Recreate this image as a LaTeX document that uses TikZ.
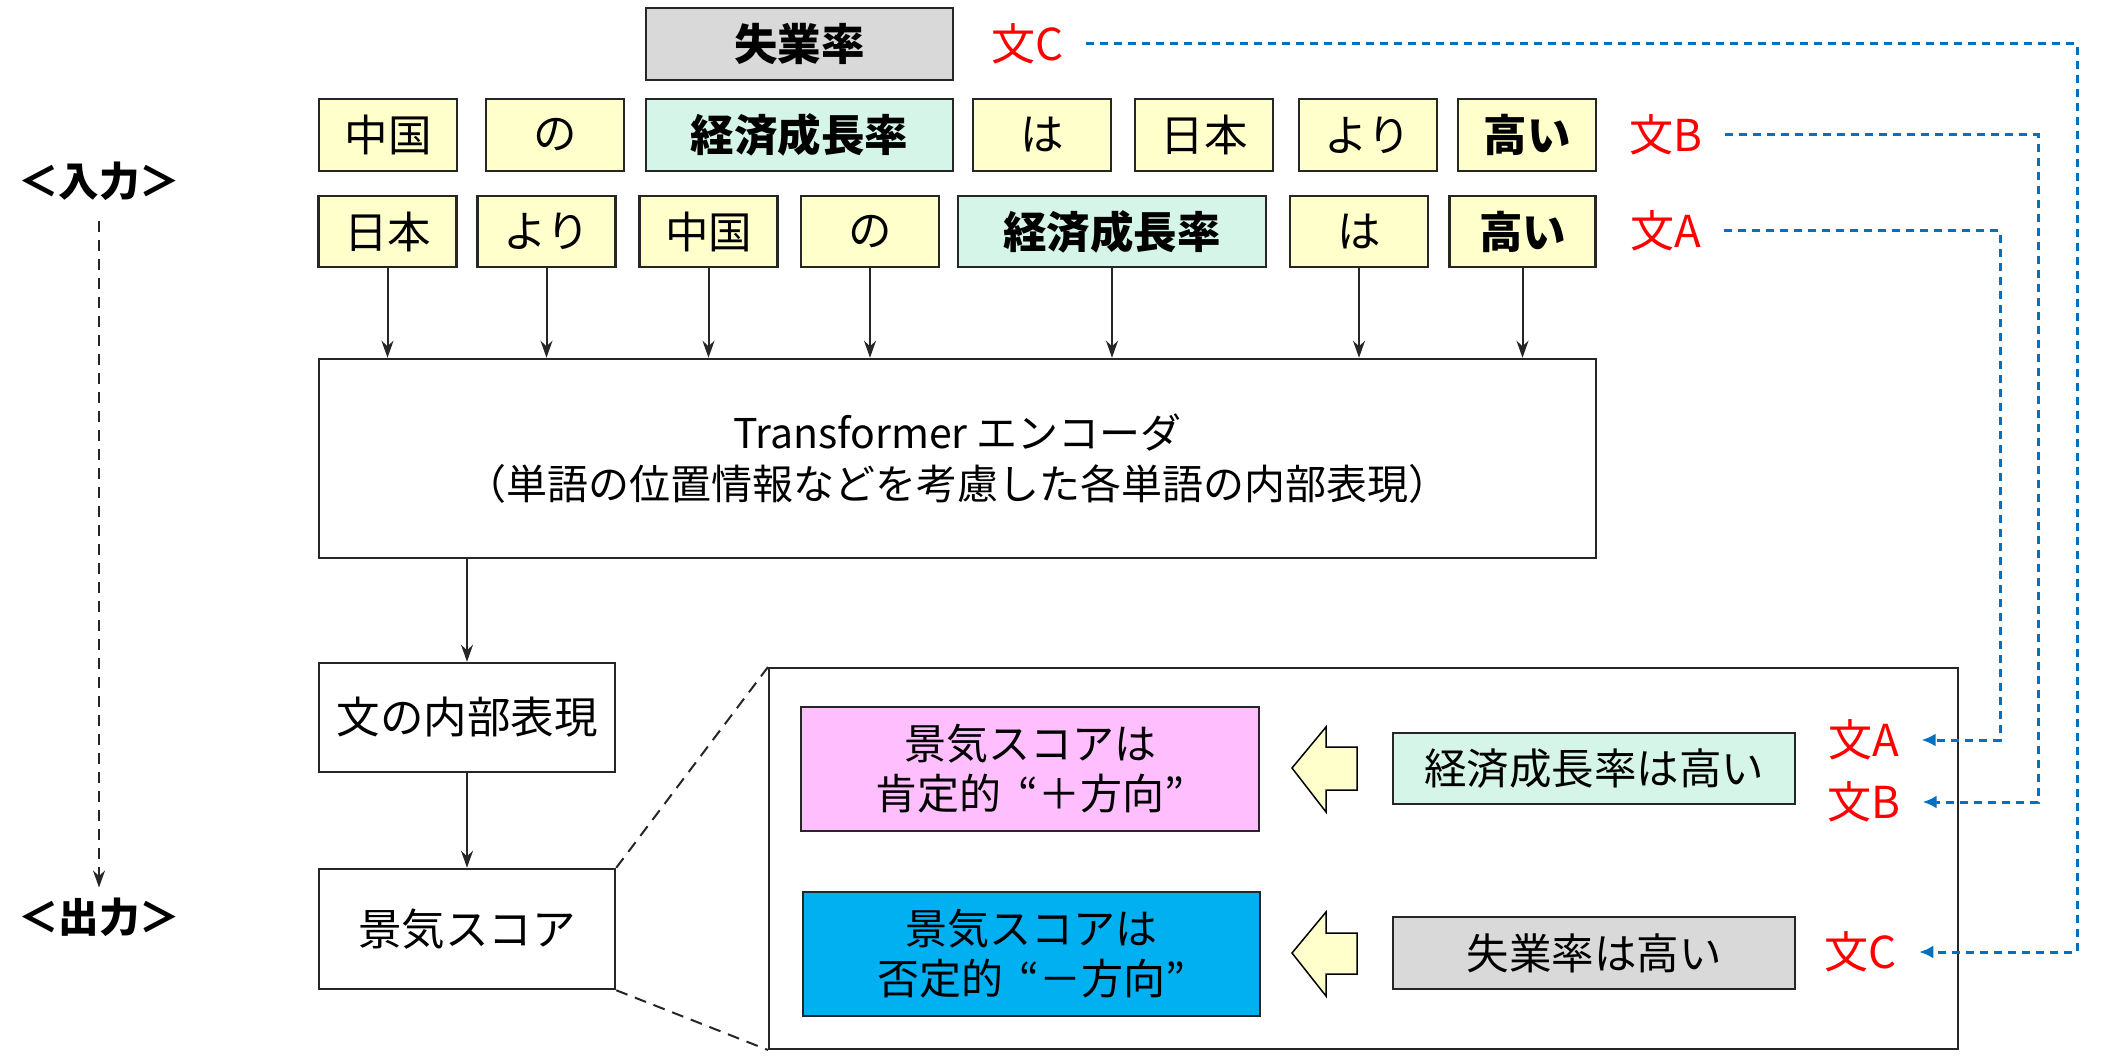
\documentclass[tikz,border=0pt]{standalone}
\usepackage{fontspec}
\setmainfont{Noto Sans CJK JP}
\usetikzlibrary{arrows.meta}
\definecolor{tokyellow}{HTML}{FFFFCC}
\definecolor{mint}{HTML}{D5F5E9}
\definecolor{grayfill}{HTML}{D9D9D9}
\definecolor{pinkbox}{HTML}{FFBFFF}
\definecolor{bluebox}{HTML}{00B0F0}
\definecolor{linkblue}{HTML}{0070C0}
\definecolor{edge}{HTML}{262626}
\begin{document}
\begin{tikzpicture}[x=1pt,y=-1pt,
  box/.style={draw=edge, line width=2.5pt, inner sep=0pt, minimum height=72pt, align=center, font=\fontsize{43.5}{50}\selectfont},
  tok/.style={box, fill=tokyellow, minimum width=138pt},
  keytok/.style={box, fill=mint, minimum width=307pt, font=\fontsize{43.5}{50}\selectfont\bfseries},
  plain/.style={box, fill=white},
  lab/.style={text=red, inner sep=0pt, font=\fontsize{44}{50}\selectfont},
  side/.style={inner sep=0pt, font=\fontsize{40.5}{46}\selectfont\bfseries},
  flow/.style={draw=edge, line width=2pt, -{Stealth[length=17pt,width=12pt]}},
  link/.style={draw=linkblue, line width=3pt, dash pattern=on 8pt off 6pt, -{Latex[length=14pt,width=13pt]}},
  zoomdash/.style={draw=edge, line width=2pt, dash pattern=on 12pt off 8pt},
  blockarrow/.style={fill=tokyellow, draw=black, line width=1.5pt, line join=miter}
]
\useasboundingbox (0,0) rectangle (2101,1059);

% side labels
\node[side] (in) at (99,181) {＜入力＞};
\node[side] (out) at (99,917) {＜出力＞};
\draw[draw=edge, line width=2pt, dash pattern=on 11pt off 8pt, -{Stealth[length=17pt,width=12pt]}, shorten <=20pt, shorten >=10pt] (in.south) -- (out.north);

% sentence C
\node[box, fill=grayfill, minimum width=307pt, font=\fontsize{43.5}{50}\selectfont\bfseries] (c1) at (799.5,44) {失業率};
\node[lab] (lCt) at (1028,44) {文C};

% sentence B
\node[tok] (b1) at (388,135) {中国};
\node[tok] (b2) at (555,135) {の};
\node[keytok] (b3) at (799.5,135) {経済成長率};
\node[tok] (b4) at (1042,135) {は};
\node[tok] (b5) at (1204,135) {日本};
\node[tok] (b6) at (1368,135) {より};
\node[tok, font=\fontsize{43.5}{50}\selectfont\bfseries] (b7) at (1527,135) {高い};
\node[lab] (lBt) at (1666,135) {文B};

% sentence A
\node[tok, minimum height=71pt] (a1) at (387.5,231.5) {日本};
\node[tok, minimum height=71pt] (a2) at (546.5,231.5) {より};
\node[tok, minimum height=71pt] (a3) at (708.5,231.5) {中国};
\node[tok, minimum height=71pt] (a4) at (870,231.5) {の};
\node[keytok, minimum height=71pt, minimum width=308pt] (a5) at (1112,231.5) {経済成長率};
\node[tok, minimum height=71pt] (a6) at (1359,231.5) {は};
\node[tok, minimum height=71pt, minimum width=146pt, font=\fontsize{43.5}{50}\selectfont\bfseries] (a7) at (1522.5,231.5) {高い};
\node[lab] (lAt) at (1666,231) {文A};

% encoder
\node[plain, minimum width=1277pt, minimum height=199pt, font=\fontsize{41}{51}\selectfont] (enc) at (957.5,458.5) {Transformer エンコーダ\\（単語の位置情報などを考慮した各単語の内部表現）};
\foreach \t in {a1,a2,a3,a4,a5,a6,a7}
  \draw[flow] (\t.south) -- (\t.south |- enc.north);

% sentence representation and score
\node[plain, minimum width=296pt, minimum height=109pt] (rep) at (467,717.5) {文の内部表現};
\node[plain, minimum width=296pt, minimum height=120pt] (score) at (467,929) {景気スコア};
\draw[flow] (enc.south -| rep.north) -- (rep.north);
\draw[flow] (rep.south) -- (score.north);

% zoom panel
\node[draw=edge, line width=2pt, minimum width=1189pt, minimum height=381pt, inner sep=0pt] (zoom) at (1363.5,858.5) {};
\draw[zoomdash] (score.north east) -- (zoom.north west);
\draw[zoomdash] (score.south east) -- (zoom.south west);

\node[box, fill=pinkbox, minimum width=458pt, minimum height=124pt, font=\fontsize{42}{50}\selectfont] (pos) at (1030,769) {景気スコアは\\肯定的\hspace{0.4em}“＋方向”};
\node[box, fill=bluebox, minimum width=457pt, minimum height=124pt, font=\fontsize{42}{50}\selectfont] (neg) at (1031.5,954) {景気スコアは\\否定的\hspace{0.4em}“－方向”};
\node[box, fill=mint, minimum width=402pt, minimum height=71pt, font=\fontsize{42.5}{50}\selectfont] (s1) at (1594,768.5) {経済成長率は高い};
\node[box, fill=grayfill, minimum width=402pt, minimum height=72pt, font=\fontsize{42.5}{50}\selectfont] (s2) at (1594,953) {失業率は高い};

\filldraw[blockarrow] (1292,768) -- (1326,727) -- (1326,747) -- (1357,747) -- (1357,790) -- (1326,790) -- (1326,812) -- cycle;
\filldraw[blockarrow] (1292,953) -- (1326,912) -- (1326,933) -- (1357,933) -- (1357,974) -- (1326,974) -- (1326,996) -- cycle;

\node[lab] (lAb) at (1864,740) {文A};
\node[lab] (lBb) at (1864,802) {文B};
\node[lab] (lCb) at (1861,952) {文C};

% links
\coordinate (xA) at (2000,0);
\coordinate (xB) at (2038,0);
\coordinate (xC) at (2077,0);
\draw[link, shorten <=22pt, shorten >=22pt] (lAt.east) -- (lAt.east -| xA) -- (xA |- lAb.east) -- (lAb.east);
\draw[link, shorten <=22pt, shorten >=22pt] (lBt.east) -- (lBt.east -| xB) -- (xB |- lBb.east) -- (lBb.east);
\draw[link, shorten <=22pt, shorten >=22pt] (lCt.east) -- (lCt.east -| xC) -- (xC |- lCb.east) -- (lCb.east);
\end{tikzpicture}
\end{document}
